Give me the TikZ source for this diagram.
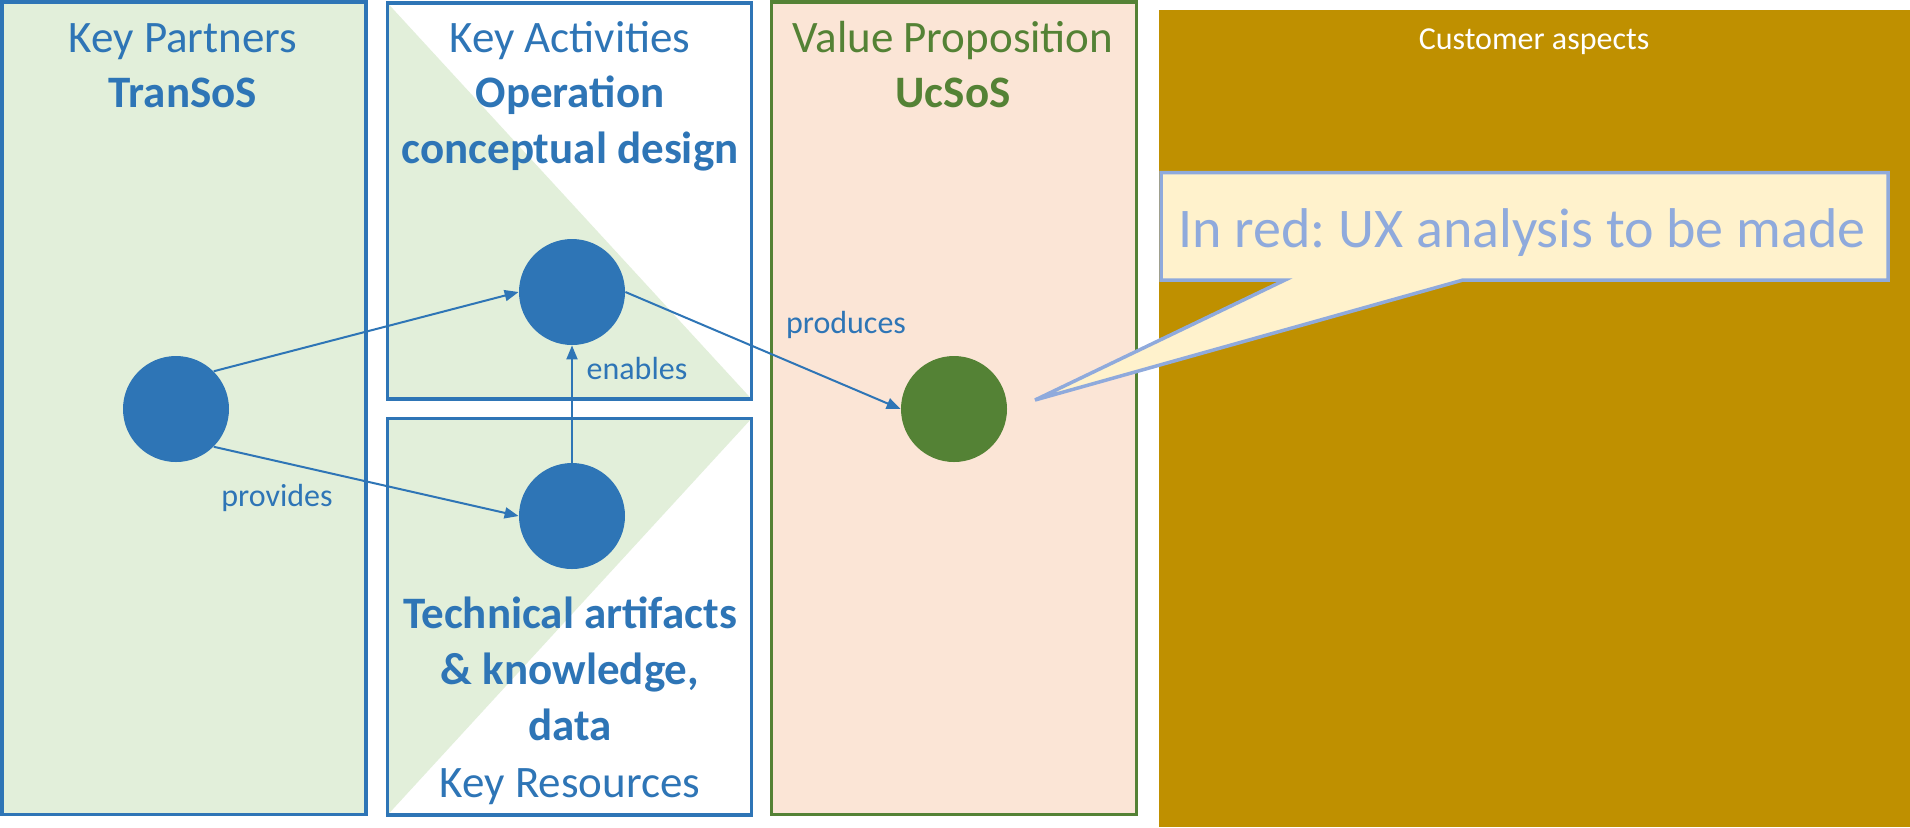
\documentclass[tikz,border=0pt]{standalone}
\usepackage{fontspec}
\setmainfont{Carlito}
\usetikzlibrary{arrows.meta}
\definecolor{kblue}{HTML}{2E75B6}
\definecolor{lgreen}{HTML}{E2EFDA}
\definecolor{dgreen}{HTML}{548235}
\definecolor{peach}{HTML}{FBE5D6}
\definecolor{gold}{HTML}{BF9000}
\definecolor{cfill}{HTML}{FFF2CC}
\definecolor{cblue}{HTML}{8FAADC}
\frenchspacing
\begin{document}
\begin{tikzpicture}[x=0.5pt,y=-0.5pt,
  box/.style={draw=kblue, line width=1.75pt},
  dot/.style={circle, fill=kblue, minimum size=53pt, inner sep=0pt},
  title/.style={anchor=base, text=kblue, inner sep=0pt, font=\fontsize{22.5}{27}\selectfont},
  btitle/.style={title, font=\fontsize{22.5}{27}\selectfont\bfseries},
  lab/.style={anchor=base, text=kblue, inner sep=0pt, font=\fontsize{16}{19}\selectfont},
  arr/.style={draw=kblue, line width=1pt, -{Triangle[length=7pt,width=5.5pt]}}
]
\useasboundingbox (0,0) rectangle (1910,827);
\fill[white] (0,0) rectangle (1910,827);
% Key Partners
\fill[lgreen] (1.75,1.75) rectangle (366,814.5);
\draw[box] (1.75,1.75) rectangle (366,814.5);
% Key Activities
\fill[lgreen] (387.5,3) -- (387.5,399) -- (751.5,399) -- cycle;
\draw[box] (387.5,3) rectangle (751.5,399);
% Key Resources
\fill[lgreen] (387.5,418.5) -- (751.5,418.5) -- (387.5,815) -- cycle;
\draw[box] (387.5,418.5) rectangle (751.5,815);
% Value Proposition
\fill[peach] (771.5,1.75) rectangle (1136.5,814.5);
\draw[draw=dgreen, line width=1.75pt] (771.5,1.75) rectangle (1136.5,814.5);
% Customer aspects
\fill[gold] (1159,10) rectangle (1910,827);
\node[anchor=base, text=white, inner sep=0pt, font=\fontsize{16}{19}\selectfont] (cust) at (1534,49) {Customer aspects};

% titles
\node[title] (kp) at (183,52) {Key Partners};
\node[btitle] (kpb) at (183,107) {TranSoS};
\node[title] (ka) at (570,52) {Key Activities};
\node[btitle] (kab1) at (570,107) {Operation};
\node[btitle] (kab2) at (570,163) {conceptual design};
\node[btitle] (krb1) at (570,628) {Technical artifacts};
\node[btitle] (krb2) at (570,684) {\& knowledge,};
\node[btitle] (krb3) at (570,740) {data};
\node[title] (kr) at (570,797) {Key Resources};
\node[title, text=dgreen] (vp) at (953,52) {Value Proposition};
\node[btitle, text=dgreen] (vpb) at (953,107) {UcSoS};

% circles
\node[dot] (partner) at (176,409) {};
\node[dot] (activity) at (572,292) {};
\node[dot] (resource) at (572,516) {};
\node[dot, fill=dgreen] (value) at (954,409) {};

% arrows
\draw[arr] (partner.45) -- (activity.west);
\draw[arr] (partner.-45) -- (resource.west);
\draw[arr] (resource.north) -- (activity.south);
\draw[arr] (activity.east) -- (value.west);

\node[lab] (enables) at (637,379) {enables};
\node[lab] (provides) at (277,506) {provides};
\node[lab] (produces) at (846,333) {produces};

% callout
\coordinate (tip) at (1035,400);
\draw[draw=cblue, fill=cfill, line width=1.75pt, line join=miter]
  (1161,172.5) -- (1888,172.5) -- (1888,280) -- (1463,280) -- (tip) -- (1285,280) -- (1161,280) -- cycle;
\node[anchor=base, text=cblue, inner sep=0pt, font=\fontsize{28}{33}\selectfont] (note) at (1522,247) {In red: UX analysis to be made};
\end{tikzpicture}
\end{document}
